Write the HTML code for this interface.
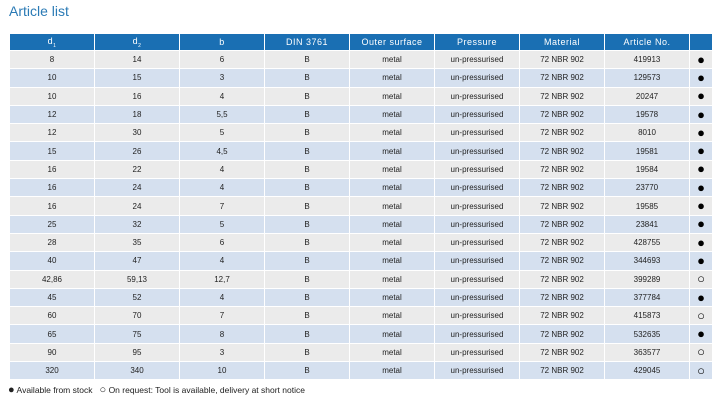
<!DOCTYPE html>
<html><head><style>
body{margin:0;width:717px;height:413px;background:#fff;font-family:"Liberation Sans",sans-serif;position:relative;overflow:hidden}
.t{position:absolute;left:9px;top:3px;font-size:14px;color:#2a7ab5}
table{position:absolute;left:9px;top:33px;border-collapse:collapse;table-layout:fixed;width:703px}
td,th{border:1px solid #fff;text-align:center;padding:0;font-size:8px;color:#222;height:17.3px;white-space:nowrap}
th{background:#1a6fb3;color:#fff;font-weight:normal;font-size:9px;letter-spacing:.5px;height:16px}
tr:nth-child(odd) td{background:#ebebeb}
tr:nth-child(even) td{background:#d5e0ef}
.d{font-size:13px;color:#000;line-height:10px}
.f{position:absolute;left:8px;top:384px;font-size:8.5px;color:#222}
.f span{font-size:11px}
sub{font-size:5px}
</style></head><body>
<div class="t">Article list</div>
<table>
<colgroup><col style="width:85px"><col style="width:85px"><col style="width:85px"><col style="width:85px"><col style="width:85px"><col style="width:85px"><col style="width:85px"><col style="width:85px"><col style="width:23px"></colgroup>
<thead><tr><th>d<sub>1</sub></th><th>d<sub>2</sub></th><th>b</th><th>DIN 3761</th><th>Outer surface</th><th>Pressure</th><th>Material</th><th>Article No.</th><th></th></tr></thead>
<tbody>
<tr><td>8</td><td>14</td><td>6</td><td>B</td><td>metal</td><td>un-pressurised</td><td>72 NBR 902</td><td>419913</td><td class="d">●</td></tr>
<tr><td>10</td><td>15</td><td>3</td><td>B</td><td>metal</td><td>un-pressurised</td><td>72 NBR 902</td><td>129573</td><td class="d">●</td></tr>
<tr><td>10</td><td>16</td><td>4</td><td>B</td><td>metal</td><td>un-pressurised</td><td>72 NBR 902</td><td>20247</td><td class="d">●</td></tr>
<tr><td>12</td><td>18</td><td>5,5</td><td>B</td><td>metal</td><td>un-pressurised</td><td>72 NBR 902</td><td>19578</td><td class="d">●</td></tr>
<tr><td>12</td><td>30</td><td>5</td><td>B</td><td>metal</td><td>un-pressurised</td><td>72 NBR 902</td><td>8010</td><td class="d">●</td></tr>
<tr><td>15</td><td>26</td><td>4,5</td><td>B</td><td>metal</td><td>un-pressurised</td><td>72 NBR 902</td><td>19581</td><td class="d">●</td></tr>
<tr><td>16</td><td>22</td><td>4</td><td>B</td><td>metal</td><td>un-pressurised</td><td>72 NBR 902</td><td>19584</td><td class="d">●</td></tr>
<tr><td>16</td><td>24</td><td>4</td><td>B</td><td>metal</td><td>un-pressurised</td><td>72 NBR 902</td><td>23770</td><td class="d">●</td></tr>
<tr><td>16</td><td>24</td><td>7</td><td>B</td><td>metal</td><td>un-pressurised</td><td>72 NBR 902</td><td>19585</td><td class="d">●</td></tr>
<tr><td>25</td><td>32</td><td>5</td><td>B</td><td>metal</td><td>un-pressurised</td><td>72 NBR 902</td><td>23841</td><td class="d">●</td></tr>
<tr><td>28</td><td>35</td><td>6</td><td>B</td><td>metal</td><td>un-pressurised</td><td>72 NBR 902</td><td>428755</td><td class="d">●</td></tr>
<tr><td>40</td><td>47</td><td>4</td><td>B</td><td>metal</td><td>un-pressurised</td><td>72 NBR 902</td><td>344693</td><td class="d">●</td></tr>
<tr><td>42,86</td><td>59,13</td><td>12,7</td><td>B</td><td>metal</td><td>un-pressurised</td><td>72 NBR 902</td><td>399289</td><td class="d">○</td></tr>
<tr><td>45</td><td>52</td><td>4</td><td>B</td><td>metal</td><td>un-pressurised</td><td>72 NBR 902</td><td>377784</td><td class="d">●</td></tr>
<tr><td>60</td><td>70</td><td>7</td><td>B</td><td>metal</td><td>un-pressurised</td><td>72 NBR 902</td><td>415873</td><td class="d">○</td></tr>
<tr><td>65</td><td>75</td><td>8</td><td>B</td><td>metal</td><td>un-pressurised</td><td>72 NBR 902</td><td>532635</td><td class="d">●</td></tr>
<tr><td>90</td><td>95</td><td>3</td><td>B</td><td>metal</td><td>un-pressurised</td><td>72 NBR 902</td><td>363577</td><td class="d">○</td></tr>
<tr><td>320</td><td>340</td><td>10</td><td>B</td><td>metal</td><td>un-pressurised</td><td>72 NBR 902</td><td>429045</td><td class="d">○</td></tr>
</tbody></table>
<div class="f"><span>●</span> Available from stock &nbsp; <span>○</span> On request: Tool is available, delivery at short notice</div>
</body></html>
